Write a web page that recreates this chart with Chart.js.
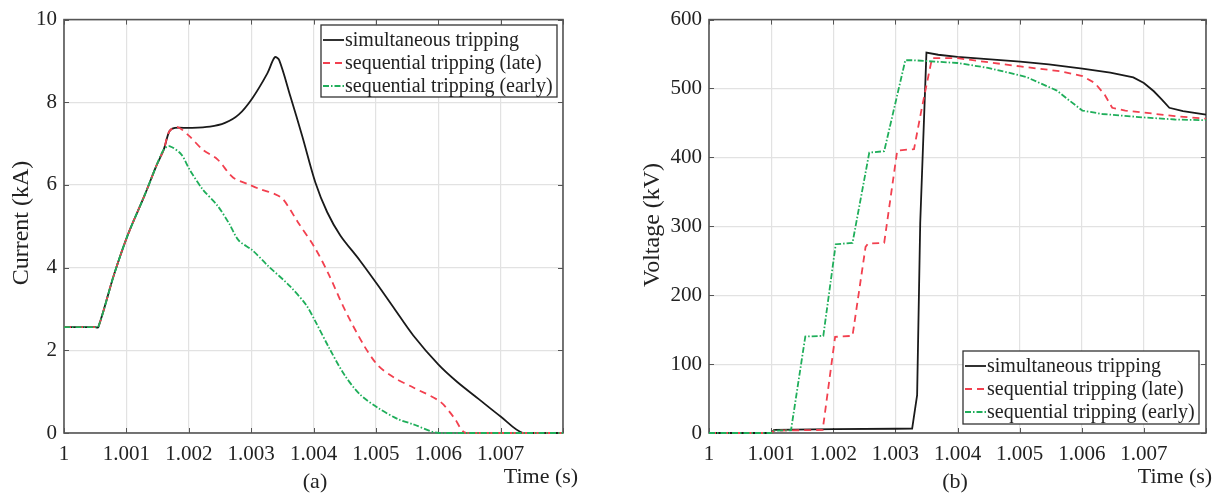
<!DOCTYPE html>
<html>
<head>
<meta charset="utf-8">
<script src="https://cdn.jsdelivr.net/npm/chart.js@4.4.1/dist/chart.umd.min.js"></script>
<style>
  html, body { margin: 0; padding: 0; background: #fff; }
  #wrap { position: relative; width: 1224px; height: 494px; overflow: hidden; }
  canvas { position: absolute; top: 0; }
</style>
</head>
<body>
<div id="wrap">
  <canvas id="currentChart" width="612" height="494" style="left:0"></canvas>
  <canvas id="voltageChart" width="612" height="494" style="left:612px"></canvas>
</div>
<script>
// --- data ---
const seriesNames = ['simultaneous tripping', 'sequential tripping (late)', 'sequential tripping (early)'];
const timeTicks = [1, 1.001, 1.002, 1.003, 1.004, 1.005, 1.006, 1.007];
const currentTicks = [0, 2, 4, 6, 8, 10];
const voltageTicks = [0, 100, 200, 300, 400, 500, 600];

// (a) current, kA
const simCurT = [1, 1.0005, 1.00055, 1.0008, 1.00102, 1.00129, 1.00148, 1.0016, 1.00169, 1.00178, 1.00201, 1.00234, 1.00258, 1.0028, 1.00302, 1.00326, 1.00338, 1.00345, 1.00363, 1.00382, 1.00403, 1.00422, 1.00443, 1.00474, 1.00503, 1.0053, 1.0056, 1.006, 1.0063, 1.00665, 1.007, 1.00736, 1.008];
const simCurI = [2.56, 2.56, 2.56, 3.82, 4.78, 5.74, 6.46, 6.86, 7.30, 7.38, 7.38, 7.41, 7.50, 7.70, 8.10, 8.70, 9.09, 9.02, 8.14, 7.18, 6.06, 5.34, 4.78, 4.18, 3.58, 3.00, 2.36, 1.66, 1.24, 0.82, 0.40, 0, 0];
const lateCurT = [1, 1.0005, 1.00055, 1.0008, 1.00102, 1.00129, 1.00148, 1.0016, 1.00169, 1.00182, 1.00201, 1.00222, 1.00246, 1.00271, 1.00295, 1.00314, 1.00338, 1.00351, 1.00375, 1.00403, 1.00425, 1.00449, 1.0048, 1.00503, 1.00529, 1.0056, 1.00603, 1.00625, 1.00645, 1.008];
const lateCurI = [2.56, 2.56, 2.56, 3.82, 4.78, 5.74, 6.46, 6.86, 7.30, 7.40, 7.18, 6.86, 6.62, 6.18, 6.02, 5.90, 5.78, 5.66, 5.10, 4.46, 3.82, 3.02, 2.14, 1.64, 1.34, 1.10, 0.76, 0.38, 0, 0];
const earlyCurT = [1, 1.0005, 1.00055, 1.0008, 1.00102, 1.00129, 1.00148, 1.0016, 1.00169, 1.00188, 1.00201, 1.00222, 1.00246, 1.00265, 1.0028, 1.00302, 1.00326, 1.00363, 1.00388, 1.00403, 1.00425, 1.00449, 1.00474, 1.00503, 1.00535, 1.0056, 1.00601, 1.008];
const earlyCurI = [2.56, 2.56, 2.56, 3.82, 4.78, 5.74, 6.46, 6.86, 6.94, 6.74, 6.38, 5.90, 5.50, 5.06, 4.66, 4.42, 4.06, 3.54, 3.10, 2.70, 2.06, 1.42, 0.94, 0.61, 0.34, 0.21, 0, 0];

// (b) voltage, kV
const simVolT = [1, 1.001, 1.00105, 1.002, 1.003, 1.00327, 1.00335, 1.0034, 1.0035, 1.00369, 1.004, 1.00501, 1.00547, 1.00601, 1.00646, 1.00683, 1.007, 1.00716, 1.00729, 1.00741, 1.00763, 1.008];
const simVolV = [0, 0, 4.5, 5.5, 6.2, 6.5, 55, 305, 552, 549, 546, 539, 535, 529, 523, 516, 508, 496, 484, 472, 467, 462];
const lateVolT = [1, 1.001, 1.00105, 1.00183, 1.00203, 1.00231, 1.00252, 1.00256, 1.00282, 1.00303, 1.0033, 1.00342, 1.00359, 1.004, 1.00501, 1.00566, 1.00601, 1.00621, 1.00637, 1.00649, 1.0067, 1.007, 1.0075, 1.008];
const lateVolV = [0, 0, 3.5, 4.5, 139.5, 141, 270, 275, 276, 410, 412, 469, 544, 544, 532, 525, 518, 508, 491, 472, 468, 465, 460, 456];
const earlyVolT = [1, 1.001, 1.00105, 1.00132, 1.00155, 1.00184, 1.00204, 1.00231, 1.00258, 1.00282, 1.00316, 1.00329, 1.004, 1.00449, 1.0051, 1.0056, 1.00578, 1.00601, 1.00633, 1.007, 1.0075, 1.008];
const earlyVolV = [0, 0, 3.5, 4, 140, 141, 274, 276, 407, 409, 541, 541, 537, 530, 517, 497, 484, 468, 463, 458, 455, 454];

const FONT = '"Liberation Serif", "Times New Roman", serif';
const styles = [
  { color: '#1a1a1a', dash: [], order: 3 },
  { color: '#f2404f', dash: [7, 5], order: 2 },
  { color: '#1fae5a', dash: [6, 2, 1.5, 2], order: 1 }
];

const toPoints = (ts, vs) => ts.map((t, i) => ({ x: t, y: vs[i] }));

// MATLAB-like box with inward ticks, drawn under the lines
const matlabBox = {
  id: 'matlabBox',
  beforeDatasetsDraw(chart) {
    const { ctx, chartArea: a, scales } = chart;
    ctx.save();
    ctx.strokeStyle = '#555';
    ctx.lineWidth = 1;
    ctx.beginPath();
    scales.x.ticks.forEach(t => {
      const px = Math.round(scales.x.getPixelForValue(t.value)) + 0.5;
      ctx.moveTo(px, a.bottom); ctx.lineTo(px, a.bottom - 5);
      ctx.moveTo(px, a.top); ctx.lineTo(px, a.top + 5);
    });
    scales.y.ticks.forEach(t => {
      const py = Math.round(scales.y.getPixelForValue(t.value)) + 0.5;
      ctx.moveTo(a.left, py); ctx.lineTo(a.left + 5, py);
      ctx.moveTo(a.right, py); ctx.lineTo(a.right - 5, py);
    });
    ctx.stroke();
    ctx.lineWidth = 1.6;
    ctx.strokeRect(a.left, a.top, a.right - a.left, a.bottom - a.top);
    ctx.restore();
  },
  // legend and text labels on top
  afterDraw(chart, args, o) {
    const { ctx } = chart;
    ctx.save();
    const L = o.legend;
    ctx.fillStyle = '#fff';
    ctx.fillRect(L.x, L.y, L.w, L.h);
    ctx.strokeStyle = '#333';
    ctx.lineWidth = 1.3;
    ctx.strokeRect(L.x, L.y, L.w, L.h);
    ctx.font = '20px ' + FONT;
    ctx.textBaseline = 'middle';
    ctx.textAlign = 'left';
    chart.data.datasets.forEach((ds, i) => {
      const y = L.y + 15 + i * 23;
      ctx.strokeStyle = ds.borderColor;
      ctx.lineWidth = 1.8;
      ctx.setLineDash(ds.borderDash || []);
      ctx.beginPath();
      ctx.moveTo(L.x + 2, y); ctx.lineTo(L.x + 23, y);
      ctx.stroke();
      ctx.setLineDash([]);
      ctx.fillStyle = '#222';
      ctx.fillText(ds.label, L.x + 24, y + 1);
    });

    ctx.fillStyle = '#222';
    ctx.textAlign = 'center';
    ctx.font = '22px ' + FONT;
    ctx.fillText(o.xTitle.text, o.xTitle.x, o.xTitle.y);
    ctx.fillText(o.caption.text, o.caption.x, o.caption.y);
    ctx.font = '24px ' + FONT;
    ctx.translate(o.yTitle.x, o.yTitle.y);
    ctx.rotate(-Math.PI / 2);
    ctx.fillText(o.yTitle.text, 0, 0);
    ctx.restore();
  }
};

const makeChart = (id, series, yTicks, areaLeft, padRight, opts) => {
  const ctx = document.getElementById(id).getContext('2d');
  return new Chart(ctx, {
    type: 'line',
    data: {
      datasets: series.map((s, i) => ({
        label: seriesNames[i],
        data: s,
        order: styles[i].order,
        borderColor: styles[i].color,
        borderDash: styles[i].dash,
        borderWidth: 1.8,
        pointRadius: 0,
        fill: false,
        clip: 4,
        tension: opts.tension
      }))
    },
    options: {
      responsive: false,
      animation: false,
      layout: { padding: { top: 16, right: padRight, left: 0, bottom: 0 } },
      plugins: {
        legend: { display: false },
        tooltip: { enabled: false },
        matlabBox: opts
      },
      scales: {
        x: {
          type: 'linear',
          min: 1, max: 1.008,
          afterBuildTicks: s => { s.ticks = timeTicks.concat([1.008]).map(v => ({ value: v })); },
          afterFit: s => { s.height = 61; },
          grid: { color: '#e2e2e2', lineWidth: 1.2, drawTicks: false },
          border: { display: false },
          ticks: {
            autoSkip: false, maxRotation: 0, padding: 9,
            color: '#222', font: { family: FONT, size: 21 },
            callback: v => v > 1.0075 ? '' : String(Number(v.toFixed(3)))
          }
        },
        y: {
          min: yTicks[0], max: yTicks[yTicks.length - 1],
          afterBuildTicks: s => { s.ticks = yTicks.map(v => ({ value: v })); },
          afterFit: s => { s.width = areaLeft; },
          grid: { color: '#e2e2e2', lineWidth: 1.2, drawTicks: false },
          border: { display: false },
          ticks: {
            padding: 7, color: '#222', font: { family: FONT, size: 21 }
          }
        }
      }
    },
    plugins: [matlabBox]
  });
};

const currentChart = makeChart('currentChart',
  [toPoints(simCurT, simCurI), toPoints(lateCurT, lateCurI), toPoints(earlyCurT, earlyCurI)],
  currentTicks, 64, 49,
  {
    tension: 0.3,
    legend: { x: 321, y: 25, w: 236, h: 72 },
    xTitle: { text: 'Time (s)', x: 541, y: 477 },
    caption: { text: '(a)', x: 315, y: 482 },
    yTitle: { text: 'Current (kA)', x: 22, y: 223 }
  });

const voltageChart = makeChart('voltageChart',
  [toPoints(simVolT, simVolV), toPoints(lateVolT, lateVolV), toPoints(earlyVolT, earlyVolV)],
  voltageTicks, 97, 18,
  {
    tension: 0,
    legend: { x: 351, y: 351, w: 236, h: 73 },
    xTitle: { text: 'Time (s)', x: 563, y: 477 },
    caption: { text: '(b)', x: 343, y: 482 },
    yTitle: { text: 'Voltage (kV)', x: 41, y: 225 }
  });
</script>
</body>
</html>
